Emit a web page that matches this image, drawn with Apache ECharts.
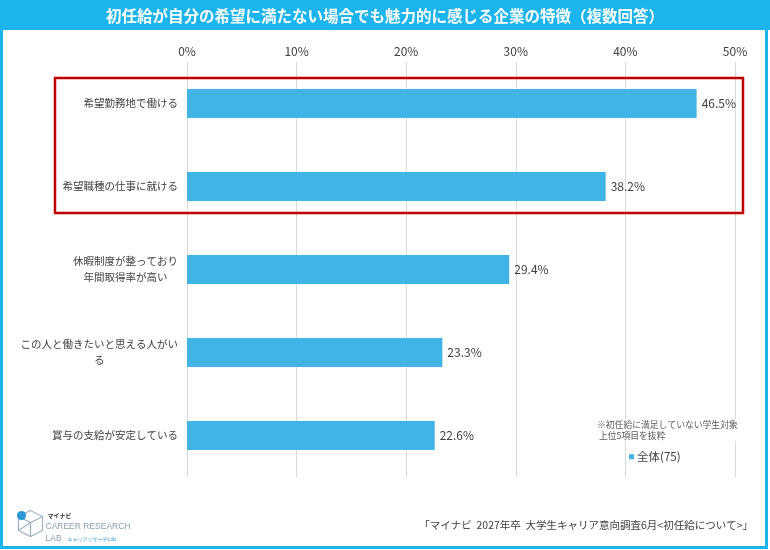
<!DOCTYPE html>
<html>
<head>
<meta charset="utf-8">
<script src="https://cdn.jsdelivr.net/npm/echarts@6/dist/echarts.min.js"></script>
<style>
html,body{margin:0;padding:0;background:#fff;}
#chart{width:770px;height:550px;}
</style>
</head>
<body>
<div id="chart"></div>
<script>
var titleText = '初任給が自分の希望に満たない場合でも魅力的に感じる企業の特徴（複数回答）';
var categories = [
  '希望勤務地で働ける',
  '希望職種の仕事に就ける',
  '休暇制度が整っており\n年間取得率が高い',
  'この人と働きたいと思える人がい\nる',
  '賞与の支給が安定している'
];
var seriesName = '全体(75)';
var values = [46.5, 38.2, 29.4, 23.3, 22.6];
var axisMin = 0, axisMax = 50, axisStep = 10;
var noteLines = ['※初任給に満足していない学生対象', '上位5項目を抜粋'];
var sourceText = '「マイナビ  2027年卒  大学生キャリア意向調査6月<初任給について>」';

var FONT = '"Noto Sans CJK JP", "Noto Sans", sans-serif';
var CYAN = '#1cb4ec';
var BAR = '#41b4e7';

var chart = echarts.init(document.getElementById('chart'), null, {renderer: 'canvas'});
chart.setOption({
  backgroundColor: '#ffffff',
  animation: false,
  textStyle: {fontFamily: FONT},
  title: {
    text: titleText,
    left: 'center',
    top: 3,
    textStyle: {color: '#ffffff', fontSize: 15.5, fontWeight: 'bold', fontFamily: FONT}
  },
  legend: {
    data: [seriesName],
    left: 627,
    top: 449,
    icon: 'rect',
    itemWidth: 5,
    itemHeight: 5,
    itemGap: 4,
    padding: [2, 4, 2, 2],
    backgroundColor: '#ffffff',
    textStyle: {color: '#404040', fontSize: 11.5, fontFamily: FONT, padding: [0, 0, 0, -2]}
  },
  grid: {left: 187, right: 35, top: 62, bottom: 73, containLabel: false},
  xAxis: {
    type: 'value',
    position: 'top',
    min: axisMin,
    max: axisMax,
    interval: axisStep,
    axisLine: {show: false},
    axisTick: {show: false},
    splitLine: {show: true, lineStyle: {color: '#d9d9d9', width: 1}},
    axisLabel: {
      formatter: '{value}%',
      color: '#404040',
      fontSize: 12,
      margin: 5,
      fontFamily: FONT
    }
  },
  yAxis: {
    type: 'category',
    inverse: true,
    data: categories,
    axisLine: {show: false},
    axisTick: {show: false},
    axisLabel: {
      color: '#404040',
      fontSize: 10.5,
      margin: 9,
      lineHeight: 16,
      fontFamily: FONT,
      formatter: function (v) {
        return v.split('\n').map(function (s) { return '{c|' + s + '}'; }).join('\n');
      },
      rich: {c: {align: 'center', color: '#404040', fontSize: 10.5, lineHeight: 16, fontFamily: FONT}}
    }
  },
  series: [{
    name: seriesName,
    type: 'bar',
    data: values,
    barWidth: 29,
    itemStyle: {color: BAR},
    label: {
      show: true,
      position: 'right',
      distance: 5,
      color: '#404040',
      fontSize: 12,
      fontFamily: FONT,
      formatter: function (p) { return p.value.toFixed(1) + '%'; }
    }
  }],
  graphic: [
    {type: 'rect', z: -10, silent: true, shape: {x: 0, y: 0, width: 770, height: 30}, style: {fill: CYAN}},
    {type: 'rect', z: 100, silent: true, shape: {x: 1.5, y: 1.5, width: 765, height: 546}, style: {fill: null, stroke: CYAN, lineWidth: 3}},
    {type: 'rect', z: 100, silent: true, shape: {x: 55, y: 78, width: 688, height: 135}, style: {fill: null, stroke: '#c00000', lineWidth: 2.5}},
    {type: 'text', z: 100, silent: true, left: 597, top: 419,
      style: {text: noteLines[0] + '\n ' + noteLines[1], fill: '#595959', font: '8.8px ' + FONT, lineHeight: 11, backgroundColor: '#ffffff'}},
    {type: 'text', z: 100, silent: true, right: 17, top: 520,
      style: {text: sourceText, fill: '#404040', font: '10.5px ' + FONT}},
    {type: 'group', left: 16, top: 508, z: 100, silent: true, children: [
      {type: 'polygon', shape: {points: [[14,2],[26,8],[26,22],[14,28],[2,22],[2,8]]}, style: {fill: null, stroke: '#9db3c4', lineWidth: 1.2}},
      {type: 'polyline', shape: {points: [[2,8],[14,14],[26,8]]}, style: {fill: null, stroke: '#9db3c4', lineWidth: 1.2}},
      {type: 'line', shape: {x1: 14, y1: 14, x2: 14, y2: 28}, style: {stroke: '#9db3c4', lineWidth: 1.2}},
      {type: 'line', shape: {x1: 2, y1: 22, x2: 14, y2: 14}, style: {stroke: '#9db3c4', lineWidth: 1.2}},
      {type: 'circle', shape: {cx: 5, cy: 7, r: 4.5}, style: {fill: '#2a9ad6'}},
      {type: 'text', style: {x: 31, y: 4, text: 'マイナビ', fill: '#333333', font: 'bold 6px ' + FONT}},
      {type: 'text', style: {x: 29, y: 14, text: 'CAREER RESEARCH', fill: '#8aa0b2', font: '8.5px "Liberation Sans", sans-serif'}},
      {type: 'text', style: {x: 29, y: 26, text: 'LAB', fill: '#8aa0b2', font: '8.5px "Liberation Sans", sans-serif'}},
      {type: 'text', style: {x: 51, y: 28, text: 'キャリアリサーチLab', fill: '#2a9ad6', font: '5px ' + FONT}}
    ]}
  ]
});
</script>
</body>
</html>
